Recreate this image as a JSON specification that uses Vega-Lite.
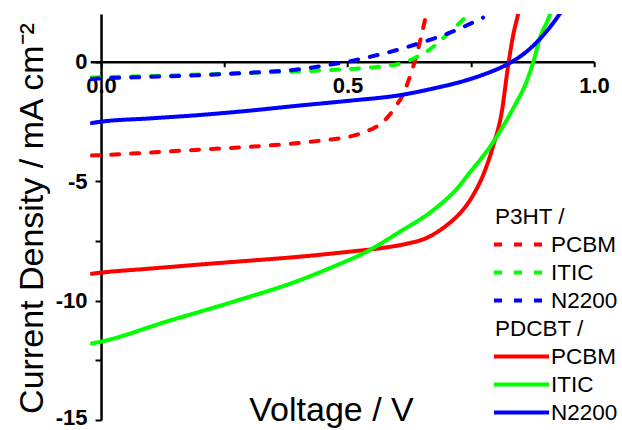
{
  "$schema": "https://vega.github.io/schema/vega-lite/v6.json",
  "width": 503.8,
  "height": 406,
  "autosize": {"type": "none"},
  "padding": {"left": 90.2, "top": 14, "right": 28, "bottom": 10},
  "config": {"view": {"stroke": null}, "font": "Liberation Sans"},
  "data": {"values": [
    {"s": "P3HT PCBM", "v": -0.02, "j": -3.93},
    {"s": "P3HT PCBM", "v": 0.0, "j": -3.91},
    {"s": "P3HT PCBM", "v": 0.1, "j": -3.80},
    {"s": "P3HT PCBM", "v": 0.2, "j": -3.68},
    {"s": "P3HT PCBM", "v": 0.3, "j": -3.56},
    {"s": "P3HT PCBM", "v": 0.404, "j": -3.40},
    {"s": "P3HT PCBM", "v": 0.45, "j": -3.29},
    {"s": "P3HT PCBM", "v": 0.505, "j": -3.13},
    {"s": "P3HT PCBM", "v": 0.54, "j": -2.90},
    {"s": "P3HT PCBM", "v": 0.555, "j": -2.76},
    {"s": "P3HT PCBM", "v": 0.57, "j": -2.56},
    {"s": "P3HT PCBM", "v": 0.58, "j": -2.35},
    {"s": "P3HT PCBM", "v": 0.59, "j": -2.10},
    {"s": "P3HT PCBM", "v": 0.60, "j": -1.80},
    {"s": "P3HT PCBM", "v": 0.61, "j": -1.48},
    {"s": "P3HT PCBM", "v": 0.62, "j": -1.0},
    {"s": "P3HT PCBM", "v": 0.627, "j": -0.6},
    {"s": "P3HT PCBM", "v": 0.634, "j": -0.15},
    {"s": "P3HT PCBM", "v": 0.64, "j": 0.28},
    {"s": "P3HT PCBM", "v": 0.65, "j": 1.11},
    {"s": "P3HT PCBM", "v": 0.66, "j": 2.02},
    {"s": "P3HT PCBM", "v": 0.665, "j": 2.5},
    {"s": "P3HT ITIC", "v": -0.02, "j": -0.66},
    {"s": "P3HT ITIC", "v": 0.0, "j": -0.65},
    {"s": "P3HT ITIC", "v": 0.133, "j": -0.58},
    {"s": "P3HT ITIC", "v": 0.25, "j": -0.50},
    {"s": "P3HT ITIC", "v": 0.404, "j": -0.40},
    {"s": "P3HT ITIC", "v": 0.49, "j": -0.32},
    {"s": "P3HT ITIC", "v": 0.55, "j": -0.24},
    {"s": "P3HT ITIC", "v": 0.58, "j": -0.17},
    {"s": "P3HT ITIC", "v": 0.606, "j": -0.08},
    {"s": "P3HT ITIC", "v": 0.625, "j": 0.05},
    {"s": "P3HT ITIC", "v": 0.64, "j": 0.2},
    {"s": "P3HT ITIC", "v": 0.66, "j": 0.42},
    {"s": "P3HT ITIC", "v": 0.674, "j": 0.63},
    {"s": "P3HT ITIC", "v": 0.688, "j": 0.88},
    {"s": "P3HT ITIC", "v": 0.715, "j": 1.38},
    {"s": "P3HT ITIC", "v": 0.745, "j": 1.98},
    {"s": "P3HT N2200", "v": -0.02, "j": -0.72},
    {"s": "P3HT N2200", "v": 0.0, "j": -0.70},
    {"s": "P3HT N2200", "v": 0.1, "j": -0.63},
    {"s": "P3HT N2200", "v": 0.2, "j": -0.56},
    {"s": "P3HT N2200", "v": 0.3, "j": -0.46},
    {"s": "P3HT N2200", "v": 0.404, "j": -0.31},
    {"s": "P3HT N2200", "v": 0.45, "j": -0.17},
    {"s": "P3HT N2200", "v": 0.5, "j": 0.0},
    {"s": "P3HT N2200", "v": 0.54, "j": 0.18},
    {"s": "P3HT N2200", "v": 0.58, "j": 0.38},
    {"s": "P3HT N2200", "v": 0.64, "j": 0.74},
    {"s": "P3HT N2200", "v": 0.708, "j": 1.22},
    {"s": "P3HT N2200", "v": 0.775, "j": 1.85},
    {"s": "PDCBT PCBM", "v": -0.02, "j": -8.88},
    {"s": "PDCBT PCBM", "v": 0.0, "j": -8.83},
    {"s": "PDCBT PCBM", "v": 0.1, "j": -8.66},
    {"s": "PDCBT PCBM", "v": 0.2, "j": -8.49},
    {"s": "PDCBT PCBM", "v": 0.3, "j": -8.33},
    {"s": "PDCBT PCBM", "v": 0.404, "j": -8.16},
    {"s": "PDCBT PCBM", "v": 0.505, "j": -7.95},
    {"s": "PDCBT PCBM", "v": 0.573, "j": -7.79},
    {"s": "PDCBT PCBM", "v": 0.62, "j": -7.62},
    {"s": "PDCBT PCBM", "v": 0.66, "j": -7.38},
    {"s": "PDCBT PCBM", "v": 0.69, "j": -7.02},
    {"s": "PDCBT PCBM", "v": 0.71, "j": -6.7},
    {"s": "PDCBT PCBM", "v": 0.728, "j": -6.35},
    {"s": "PDCBT PCBM", "v": 0.755, "j": -5.58},
    {"s": "PDCBT PCBM", "v": 0.775, "j": -4.75},
    {"s": "PDCBT PCBM", "v": 0.796, "j": -3.49},
    {"s": "PDCBT PCBM", "v": 0.813, "j": -2.09},
    {"s": "PDCBT PCBM", "v": 0.826, "j": -0.14},
    {"s": "PDCBT PCBM", "v": 0.836, "j": 1.11},
    {"s": "PDCBT PCBM", "v": 0.846, "j": 2.02},
    {"s": "PDCBT PCBM", "v": 0.85, "j": 2.5},
    {"s": "PDCBT ITIC", "v": -0.02, "j": -11.80},
    {"s": "PDCBT ITIC", "v": 0.0, "j": -11.72},
    {"s": "PDCBT ITIC", "v": 0.133, "j": -10.88},
    {"s": "PDCBT ITIC", "v": 0.268, "j": -10.05},
    {"s": "PDCBT ITIC", "v": 0.404, "j": -9.14},
    {"s": "PDCBT ITIC", "v": 0.471, "j": -8.58},
    {"s": "PDCBT ITIC", "v": 0.539, "j": -7.95},
    {"s": "PDCBT ITIC", "v": 0.606, "j": -7.12},
    {"s": "PDCBT ITIC", "v": 0.674, "j": -6.21},
    {"s": "PDCBT ITIC", "v": 0.728, "j": -5.17},
    {"s": "PDCBT ITIC", "v": 0.742, "j": -4.80},
    {"s": "PDCBT ITIC", "v": 0.796, "j": -3.35},
    {"s": "PDCBT ITIC", "v": 0.836, "j": -1.95},
    {"s": "PDCBT ITIC", "v": 0.863, "j": -0.84},
    {"s": "PDCBT ITIC", "v": 0.877, "j": 0.0},
    {"s": "PDCBT ITIC", "v": 0.890, "j": 0.98},
    {"s": "PDCBT ITIC", "v": 0.911, "j": 2.02},
    {"s": "PDCBT ITIC", "v": 0.916, "j": 2.4},
    {"s": "PDCBT N2200", "v": -0.02, "j": -2.57},
    {"s": "PDCBT N2200", "v": 0.0, "j": -2.51},
    {"s": "PDCBT N2200", "v": 0.1, "j": -2.37},
    {"s": "PDCBT N2200", "v": 0.2, "j": -2.23},
    {"s": "PDCBT N2200", "v": 0.3, "j": -2.05},
    {"s": "PDCBT N2200", "v": 0.404, "j": -1.83},
    {"s": "PDCBT N2200", "v": 0.505, "j": -1.63},
    {"s": "PDCBT N2200", "v": 0.606, "j": -1.40},
    {"s": "PDCBT N2200", "v": 0.674, "j": -1.12},
    {"s": "PDCBT N2200", "v": 0.742, "j": -0.77},
    {"s": "PDCBT N2200", "v": 0.782, "j": -0.49},
    {"s": "PDCBT N2200", "v": 0.823, "j": -0.12},
    {"s": "PDCBT N2200", "v": 0.863, "j": 0.42},
    {"s": "PDCBT N2200", "v": 0.897, "j": 1.11},
    {"s": "PDCBT N2200", "v": 0.931, "j": 2.02},
    {"s": "PDCBT N2200", "v": 0.94, "j": 2.3}
  ]},
  "mark": {"type": "line", "strokeWidth": 4, "clip": true, "interpolate": "monotone", "strokeCap": "round"},
  "encoding": {
    "x": {
      "field": "v", "type": "quantitative",
      "scale": {"domain": [-0.022, 1], "nice": false, "zero": false},
      "axis": {
        "orient": "bottom", "offset": -358.24,
        "values": [0, 0.25, 0.5, 0.75, 1],
        "labelExpr": "datum.value == 0.25 || datum.value == 0.75 ? '' : format(datum.value, '.1f')",
        "grid": false,
        "domainColor": "black", "domainWidth": 2.5,
        "tickColor": "black", "tickWidth": 2, "tickSize": 5,
        "labelFont": "Liberation Sans", "labelFontSize": 22, "labelFontWeight": "bold", "labelColor": "black",
        "labelPadding": 9, "labelFlush": false, "labelOverlap": false,
        "title": "Voltage / V",
        "titleFont": "Liberation Sans", "titleFontSize": 34, "titleFontWeight": "normal", "titleColor": "black",
        "titleX": 240.8, "titleY": 359, "titleAlign": "center", "titleBaseline": "alphabetic",
        "encode": {"ticks": {"update": {
          "y": {"signal": "datum.value == 1 ? -6 : (datum.value == 0 ? 0 : (datum.value == 0.5 ? -4 : -3))"},
          "y2": {"signal": "datum.value == 1 ? 9 : (datum.value == 0 ? 0 : (datum.value == 0.5 ? 5 : 3))"}
        }}}
      }
    },
    "y": {
      "field": "j", "type": "quantitative",
      "scale": {"domain": [-15, 2], "nice": false, "zero": false},
      "axis": {
        "orient": "left", "offset": -10.845,
        "values": [-15, -12.5, -10, -7.5, -5, -2.5, 0],
        "labelExpr": "datum.value % 5 == 0 ? replace(format(datum.value, 'd'), '\u2212', '-') : ''",
        "grid": false,
        "domainColor": "black", "domainWidth": 2.5,
        "tickColor": "black", "tickWidth": 2, "tickSize": 6,
        "labelFont": "Liberation Sans", "labelFontSize": 22, "labelFontWeight": "bold", "labelColor": "black",
        "labelPadding": 8, "labelOverlap": false, "labelFlush": false,
        "labelOffset": {"condition": {"test": "datum.value == -15", "value": -3}, "value": 0},
        "title": "Current Density / mA cm\u207b\u00b2",
        "titleFont": "Liberation Sans", "titleFontSize": 34, "titleFontWeight": "normal", "titleColor": "black",
        "titleX": -59, "titleY": 204, "titleAngle": 270, "titleAlign": "center", "titleBaseline": "alphabetic",
        "encode": {
          "ticks": {"update": {
            "x": {"signal": "datum.value % 5 == 0 ? 7 : 3.5"},
            "x2": {"signal": "datum.value % 5 == 0 ? -6 : -3.5"}
          }}
        }
      }
    },
    "color": {
      "field": "s", "type": "nominal",
      "scale": {
        "domain": ["P3HT /", "P3HT PCBM", "P3HT ITIC", "P3HT N2200", "PDCBT /", "PDCBT PCBM", "PDCBT ITIC", "PDCBT N2200"],
        "range": ["transparent", "#ff0000", "#00ff00", "#0000ff", "transparent", "#ff0000", "#00ff00", "#0000ff"]
      },
      "legend": {
        "orient": "none", "legendX": 401.8, "legendY": 189,
        "title": null, "padding": 0,
        "symbolType": "stroke", "symbolSize": 3025, "symbolStrokeWidth": 4,
        "clipHeight": 27, "rowPadding": 1, "labelOffset": 0,
        "labelFont": "Liberation Sans", "labelFontSize": 22.5, "labelColor": "black", "labelLimit": 200,
        "labelExpr": "indexof(datum.label, '/') >= 0 ? datum.label : split(datum.label, ' ')[1]",
        "encode": {"labels": {"update": {"dx": {"signal": "indexof(datum.value, '/') >= 0 ? -56 : 0"}}}}
      }
    },
    "strokeDash": {
      "field": "s", "type": "nominal",
      "scale": {
        "domain": ["P3HT /", "P3HT PCBM", "P3HT ITIC", "P3HT N2200", "PDCBT /", "PDCBT PCBM", "PDCBT ITIC", "PDCBT N2200"],
        "range": [[1, 0], [8, 12], [8, 12], [8, 12], [1, 0], [1, 0], [1, 0], [1, 0]]
      },
      "legend": {
        "orient": "none", "legendX": 401.8, "legendY": 189,
        "title": null, "padding": 0,
        "symbolType": "stroke", "symbolSize": 3025, "symbolStrokeWidth": 4,
        "clipHeight": 27, "rowPadding": 1, "labelOffset": 0,
        "labelFont": "Liberation Sans", "labelFontSize": 22.5, "labelColor": "black", "labelLimit": 200,
        "labelExpr": "indexof(datum.label, '/') >= 0 ? datum.label : split(datum.label, ' ')[1]",
        "encode": {"labels": {"update": {"dx": {"signal": "indexof(datum.value, '/') >= 0 ? -56 : 0"}}}}
      }
    }
  }
}
